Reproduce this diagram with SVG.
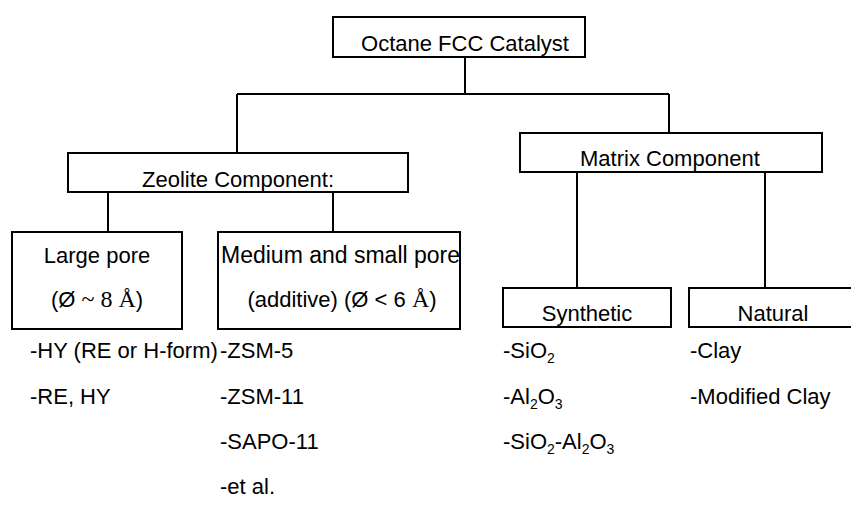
<svg xmlns="http://www.w3.org/2000/svg" width="851" height="509" viewBox="0 0 851 509">
<style>
.box{fill:#fff;stroke:#000;stroke-width:2}
.ln{stroke:#000;stroke-width:2;fill:none}
text{font-family:"Liberation Sans",Arial,sans-serif;font-size:22px;fill:#000}
.c{text-anchor:middle}
.sub{font-size:14px}
.serif{font-family:"Liberation Serif","Times New Roman",serif;font-size:24px}
</style>
<rect width="851" height="509" fill="#fff"/>
<g id="connectors">
<path class="ln" d="M465 57V94M237 94H669M237 94V153M669 94V133"/>
<path class="ln" d="M108 192V232M333 192V232"/>
<path class="ln" d="M577 172V288M765 172V288"/>
</g>
<g id="octane"><rect class="box" x="333" y="17" width="252" height="40"/><text class="c" x="465" y="51">Octane FCC Catalyst</text></g>
<g id="zeolite"><rect class="box" x="68" y="153" width="340" height="39"/><text x="142" y="187">Zeolite Component:</text></g>
<g id="matrix"><rect class="box" x="520" y="133" width="302" height="39"/><text x="580" y="166">Matrix Component</text></g>
<g id="large"><rect class="box" x="12" y="232" width="170" height="97"/><text class="c" x="97" y="263">Large pore</text><text class="c" x="97" y="307">(Ø <tspan class="serif">~ 8 Å</tspan>)</text></g>
<g id="medium"><rect class="box" x="218" y="232" width="242" height="97"/><text x="221" y="263" style="font-size:23px">Medium and small pore</text><text class="c" x="342" y="307">(additive) (Ø &lt; 6 <tspan class="serif">Å</tspan>)</text></g>
<g id="synthetic"><rect class="box" x="503" y="288" width="168" height="39"/><text class="c" x="587" y="321">Synthetic</text></g>
<g id="natural"><rect class="box" x="689" y="288" width="170" height="39"/><text class="c" x="773" y="321">Natural</text></g>
<g id="lists">
<text x="30" y="358">-HY (RE or H-form)</text>
<text x="30" y="404">-RE, HY</text>
<text x="220" y="358">-ZSM-5</text>
<text x="220" y="404">-ZSM-11</text>
<text x="220" y="449">-SAPO-11</text>
<text x="220" y="494">-et al.</text>
<text x="503" y="358">-SiO<tspan class="sub" dy="5">2</tspan></text>
<text x="503" y="404">-Al<tspan class="sub" dy="5">2</tspan><tspan dy="-5">O</tspan><tspan class="sub" dy="5">3</tspan></text>
<text x="503" y="449">-SiO<tspan class="sub" dy="5">2</tspan><tspan dy="-5">-Al</tspan><tspan class="sub" dy="5">2</tspan><tspan dy="-5">O</tspan><tspan class="sub" dy="5">3</tspan></text>
<text x="690" y="358">-Clay</text>
<text x="690" y="404">-Modified Clay</text>
</g>
</svg>
